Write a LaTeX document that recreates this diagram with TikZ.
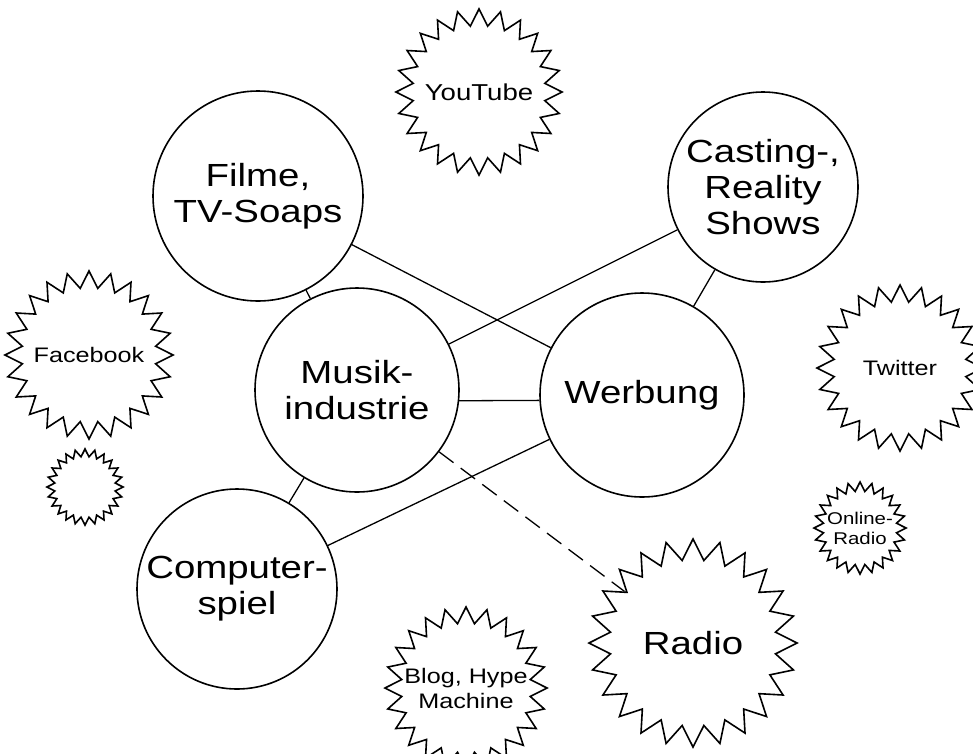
\documentclass[tikz,border=0pt]{standalone}
\usepackage{fontspec}
\setmainfont[FakeStretch=1.2]{Liberation Sans}
\usetikzlibrary{shapes.geometric}

\begin{document}
\begin{tikzpicture}[x=1pt,y=-1pt,
        medium/.style={circle, draw, line width=1.6pt, inner sep=0pt, align=center,
            font=\fontsize{32}{36}\selectfont},
        burst/.style={star, star points=24, star point ratio=1.25, draw, line width=1.6pt,
            inner sep=0pt, minimum size=#1},
        bursttext/.style 2 args={align=center, font=\fontsize{#1}{#2}\selectfont},
        link/.style={line width=1.3pt}]
            \useasboundingbox (0,0) rectangle (973,753);

            % Medien als Kreise
            \node[medium, minimum size=210pt] (filme) at (258,196) {Filme,\\TV-Soaps};
            \node[medium, minimum size=190pt] (casting) at (763,187) {Casting-,\\Reality\\Shows};
            \node[medium, minimum size=204pt] (musik) at (357,390) {Musik-\\industrie};
            \node[medium, minimum size=204pt] (werbung) at (642,395) {Werbung};
            \node[medium, minimum size=200pt] (computer) at (237,589) {Computer-\\spiel};

            % Online-Kanaele als Sterne
            \node[burst=166pt, label={[bursttext={23}{26}]center:YouTube}] (youtube) at (479,92) {};
            \node[burst=168pt, label={[bursttext={21}{24}]center:Facebook}] (facebook) at (89,355) {};
            \node[burst=76pt] (leer) at (85,487) {};
            \node[burst=166pt, label={[bursttext={21}{24}]center:Twitter}] (twitter) at (900,368) {};
            \node[burst=92pt, label={[bursttext={17}{20}]center:Online-\\Radio}] (onlineradio) at (860,528) {};
            \node[burst=208pt, label={[bursttext={32}{38}]center:Radio}] (radio) at (693,643) {};
            \node[burst=162pt, label={[bursttext={21}{25}]center:Blog, Hype\\Machine}] (blog) at (466,688) {};

            % Verbindungen
            \draw[link] (filme) -- (werbung);
            \draw[link] (filme) -- (musik);
            \draw[link] (casting) -- (musik);
            \draw[link] (casting) -- (werbung);
            \draw[link] (musik.-6) -- (werbung.183);
            \draw[link] (musik) -- (computer);
            \draw[link] (werbung) -- (computer);
            \draw[link, dash pattern=on 18pt off 9pt] (musik) -- (radio);
        \end{tikzpicture}
\end{document}
